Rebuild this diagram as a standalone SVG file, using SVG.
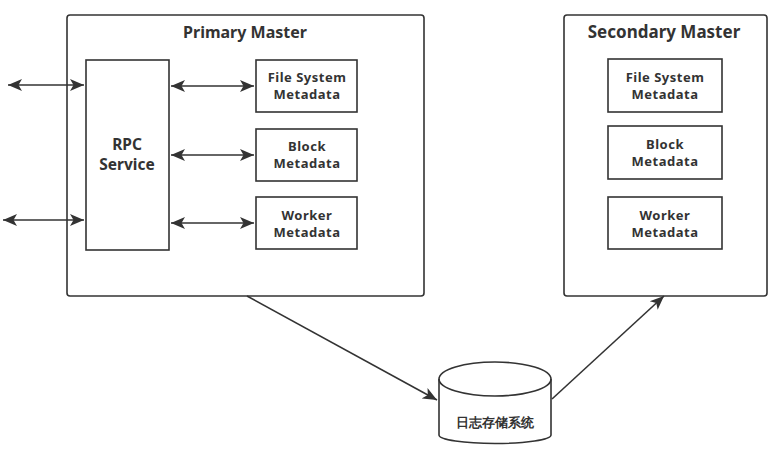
<svg xmlns="http://www.w3.org/2000/svg" width="783" height="460" viewBox="0 0 783 460">
<defs>
<marker id="ahb" viewBox="0 0 10 10" refX="10" refY="5" markerWidth="14" markerHeight="14" markerUnits="userSpaceOnUse" orient="auto-start-reverse">
<path d="M0,0.8 L10,5 L0,9.2 L2.5,5 Z" fill="#333"/>
</marker>
</defs>
<style>
.box{fill:#fff;stroke:#333;stroke-width:1.6}
.t{font-family:"Noto Sans","Open Sans",sans-serif;font-weight:bold;fill:#333;text-anchor:middle}
.s{font-size:13px;letter-spacing:0.5px}
.h{font-size:16px}
.c{stroke:#333;stroke-width:1.6;fill:none}
</style>
<rect width="783" height="460" fill="#fff"/>
<g id="primary">
<rect class="box" x="67" y="15" width="357" height="281" rx="3"/>
<text class="t h" x="245" y="38">Primary Master</text>
</g>
<g id="rpc">
<rect class="box" x="86" y="60" width="83" height="190"/>
<text class="t" x="127" y="150" font-size="15.5">RPC</text>
<text class="t" x="127" y="170" font-size="15.5">Service</text>
</g>
<g id="p-fs">
<rect class="box" x="256" y="60" width="101" height="52"/>
<text class="t s" x="307" y="82">File System</text>
<text class="t s" x="307" y="99">Metadata</text>
</g>
<g id="p-block">
<rect class="box" x="256" y="129" width="101" height="52"/>
<text class="t s" x="307" y="151">Block</text>
<text class="t s" x="307" y="168">Metadata</text>
</g>
<g id="p-worker">
<rect class="box" x="256" y="197" width="101" height="52"/>
<text class="t s" x="307" y="220">Worker</text>
<text class="t s" x="307" y="237">Metadata</text>
</g>
<g id="secondary">
<rect class="box" x="564" y="15" width="203" height="281" rx="3"/>
<text class="t" x="664" y="38" font-size="17">Secondary Master</text>
</g>
<g id="s-fs">
<rect class="box" x="608" y="59" width="114" height="53"/>
<text class="t s" x="665" y="82">File System</text>
<text class="t s" x="665" y="99">Metadata</text>
</g>
<g id="s-block">
<rect class="box" x="608" y="126" width="114" height="53"/>
<text class="t s" x="665" y="149">Block</text>
<text class="t s" x="665" y="166">Metadata</text>
</g>
<g id="s-worker">
<rect class="box" x="608" y="197" width="114" height="52"/>
<text class="t s" x="665" y="220">Worker</text>
<text class="t s" x="665" y="237">Metadata</text>
</g>
<g id="log">
<path class="box" d="M439,379 L439,435 A56,8.5 0 0 0 551,435 L551,379 A56,17 0 0 0 439,379 Z"/>
<path class="c" d="M439,379 A56,17 0 0 0 551,379"/>
<text class="t" x="495" y="427" font-size="13" font-family="'Noto Sans CJK SC',sans-serif">日志存储系统</text>
</g>
<g id="connectors">
<line class="c" x1="8" y1="85" x2="84" y2="85" marker-start="url(#ahb)" marker-end="url(#ahb)"/>
<line class="c" x1="3" y1="220" x2="84" y2="220" marker-start="url(#ahb)" marker-end="url(#ahb)"/>
<line class="c" x1="171" y1="86" x2="254" y2="86" marker-start="url(#ahb)" marker-end="url(#ahb)"/>
<line class="c" x1="171" y1="155" x2="254" y2="155" marker-start="url(#ahb)" marker-end="url(#ahb)"/>
<line class="c" x1="171" y1="223" x2="254" y2="223" marker-start="url(#ahb)" marker-end="url(#ahb)"/>
<line class="c" x1="247" y1="296" x2="437" y2="400" marker-end="url(#ahb)"/>
<line class="c" x1="552" y1="399" x2="664" y2="296" marker-end="url(#ahb)"/>
</g>
</svg>
